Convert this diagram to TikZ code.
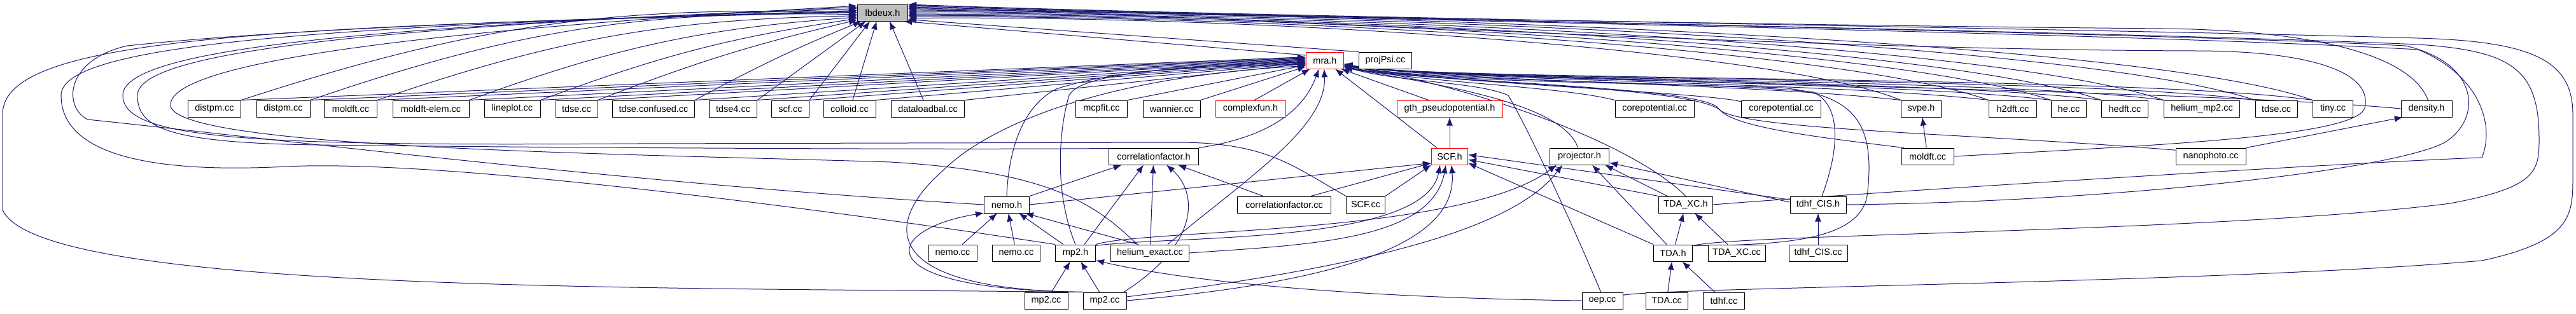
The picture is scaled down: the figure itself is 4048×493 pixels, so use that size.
\documentclass[tikz,border=0pt]{standalone}
\usepackage{fontspec}
\setmainfont{Liberation Sans}
\usetikzlibrary{arrows.meta}
\definecolor{edgeblue}{HTML}{191970}
\definecolor{boxgray}{HTML}{BFBFBF}
\pgfdeclarelayer{back}
\pgfsetlayers{back,main}

\begin{document}
\begin{tikzpicture}[x=1pt,y=1pt,>={Latex[length=13pt,width=10pt]},every node/.style={font=\fontsize{14.5}{17}\selectfont}]
  \tikzset{f/.style={rectangle,draw,line width=1pt,fill=white,minimum height=26pt,inner sep=0pt},
    fr/.style={f,draw=red},
    e/.style={->,edgeblue,line width=1pt}}
  \useasboundingbox (0,0) rectangle (4048,-493);
  \node[f,fill=boxgray,minimum width=79pt] (lbdeux) at (1387,-20) {lbdeux.h};
  \node[fr,minimum width=59pt] (mra) at (2082,-95) {mra.h};
  \node[f,minimum width=83pt] (projPsi) at (2177,-95) {projPsi.cc};
  \node[f,minimum width=83pt] (distpmA) at (337,-171) {distpm.cc};
  \node[f,minimum width=84pt] (distpmB) at (445,-171) {distpm.cc};
  \node[f,minimum width=83pt] (moldftA) at (551,-171) {moldft.cc};
  \node[f,minimum width=120pt] (moldftelem) at (677,-171) {moldft-elem.cc};
  \node[f,minimum width=88pt] (lineplot) at (805,-171) {lineplot.cc};
  \node[f,minimum width=66pt] (tdseA) at (906,-171) {tdse.cc};
  \node[f,minimum width=129pt] (tdseconf) at (1027,-171) {tdse.confused.cc};
  \node[f,minimum width=75pt] (tdsefour) at (1152,-171) {tdse4.cc};
  \node[f,minimum width=59pt] (scf) at (1242,-171) {scf.cc};
  \node[f,minimum width=82pt] (colloid) at (1335,-171) {colloid.cc};
  \node[f,minimum width=115pt] (dataloadbal) at (1458,-171) {dataloadbal.cc};
  \node[f,minimum width=81pt] (mcpfit) at (1731,-171) {mcpfit.cc};
  \node[f,minimum width=90pt] (wannier) at (1841,-171) {wannier.cc};
  \node[fr,minimum width=110pt] (complexfun) at (1965,-171) {complexfun.h};
  \node[fr,minimum width=166pt] (gth) at (2278,-171) {gth\_pseudopotential.h};
  \node[f,minimum width=124pt] (coreA) at (2600,-171) {corepotential.cc};
  \node[f,minimum width=125pt] (coreB) at (2799,-171) {corepotential.cc};
  \node[f,minimum width=63pt] (svpe) at (3019,-171) {svpe.h};
  \node[f,minimum width=75pt] (htwodft) at (3163,-171) {h2dft.cc};
  \node[f,minimum width=55pt] (he) at (3251,-171) {he.cc};
  \node[f,minimum width=73pt] (hedft) at (3339,-171) {hedft.cc};
  \node[f,minimum width=119pt] (heliummp) at (3460,-171) {helium\_mp2.cc};
  \node[f,minimum width=66pt] (tdseB) at (3577,-171) {tdse.cc};
  \node[f,minimum width=63pt] (tiny) at (3666,-171) {tiny.cc};
  \node[f,minimum width=80pt] (density) at (3813,-171) {density.h};
  \node[f,minimum width=141pt] (cfh) at (1813,-246) {correlationfactor.h};
  \node[fr,minimum width=57pt] (SCFh) at (2278,-246) {SCF.h};
  \node[f,minimum width=93pt] (projector) at (2482,-246) {projector.h};
  \node[f,minimum width=82pt] (moldftB) at (3029,-246) {moldft.cc};
  \node[f,minimum width=110pt] (nanophoto) at (3474,-246) {nanophoto.cc};
  \node[f,minimum width=71pt] (nemoh) at (1582,-322) {nemo.h};
  \node[f,minimum width=147pt] (cfcc) at (2018,-322) {correlationfactor.cc};
  \node[f,minimum width=61pt] (SCFcc) at (2146,-322) {SCF.cc};
  \node[f,minimum width=85pt] (TDAXCh) at (2649,-322) {TDA\_XC.h};
  \node[f,minimum width=88pt] (tdhfCISh) at (2857,-322) {tdhf\_CIS.h};
  \node[f,minimum width=76pt] (nemoccA) at (1497,-398) {nemo.cc};
  \node[f,minimum width=75pt] (nemoccB) at (1597,-398) {nemo.cc};
  \node[f,minimum width=63pt] (mp2h) at (1690,-398) {mp2.h};
  \node[f,minimum width=123pt] (heliumexact) at (1807,-398) {helium\_exact.cc};
  \node[f,minimum width=61pt] (TDAh) at (2629,-398) {TDA.h};
  \node[f,minimum width=90pt] (TDAXCcc) at (2729,-398) {TDA\_XC.cc};
  \node[f,minimum width=92pt] (tdhfCIScc) at (2857,-398) {tdhf\_CIS.cc};
  \node[f,minimum width=68pt] (mp2ccA) at (1644,-473) {mp2.cc};
  \node[f,minimum width=68pt] (mp2ccB) at (1736,-473) {mp2.cc};
  \node[f,minimum width=64pt] (oep) at (2518,-473) {oep.cc};
  \node[f,minimum width=66pt] (TDAcc) at (2619,-473) {TDA.cc};
  \node[f,minimum width=65pt] (tdhfcc) at (2709,-473) {tdhf.cc};

  \begin{pgfonlayer}{back}
  \draw[e] (distpmA.north east) to[bend left=10] (lbdeux.181);
  \draw[e] (distpmB.north east) to[bend left=10] (lbdeux.184);
  \draw[e] (moldftA.north east) to[bend left=9] (lbdeux.187);
  \draw[e] (moldftelem.north east) to[bend left=8] (lbdeux.190);
  \draw[e] (lineplot.north east) to[bend left=6] (lbdeux.193);
  \draw[e] (tdseA.north east) to[bend left=4] (lbdeux.196);
  \draw[e] (tdseconf.north east) to[bend left=3] (lbdeux.202);
  \draw[e] (tdsefour.north east) -- (lbdeux.207);
  \draw[e] (scf.north east) -- (lbdeux.214);
  \draw[e] (colloid.70) -- (lbdeux.235);
  \draw[e] ([xshift=-7pt]dataloadbal.north) -- (lbdeux.-51);

  \draw[e] (distpmA.north east) -- (mra.170);
  \draw[e] (distpmB.north east) -- (mra.172);
  \draw[e] (moldftA.north east) -- (mra.174);
  \draw[e] (moldftelem.north east) -- (mra.176);
  \draw[e] (lineplot.north east) -- (mra.178);
  \draw[e] (tdseA.north east) -- (mra.180);
  \draw[e] (tdseconf.north east) -- (mra.182);
  \draw[e] (tdsefour.north east) -- (mra.184);
  \draw[e] (scf.north east) -- (mra.186);
  \draw[e] (colloid.north east) -- (mra.188);
  \draw[e] (dataloadbal.north east) -- (mra.190);
  \draw[e] (mcpfit.north east) -- (mra.194);
  \draw[e] (wannier.north east) -- (mra.198);
  \draw[e] (complexfun.65) -- (mra.-150);

  \draw[e] (mra.165) -- (lbdeux.338);
  \draw[e] (projPsi.north west) -- (lbdeux.345);
  \draw[e] ([xshift=-33pt]gth.north) -- (mra.-28);
  \draw[e] (SCFh) -- (gth);
  \draw[e] ([xshift=-20pt]SCFh.north) -- (mra.-40);
  \draw[e] (projector.100) .. controls (2455,-160) and (2250,-132) .. (mra.-20);
  \draw[e] (oep.100) .. controls (2470,-350) and (2400,-200) .. (2370,-150) .. controls (2320,-128) and (2200,-130) .. (mra.-18);
  \draw[e] (TDAXCh.north) .. controls (2560,-220) and (2300,-132) .. (mra.-16);
  \draw[e] ([xshift=6pt]tdhfCISh.north) .. controls (2885,-250) and (2900,-170) .. (2850,-145) .. controls (2700,-128) and (2250,-130) .. (mra.-14);
  \draw[e] (TDAh.20) .. controls (2800,-385) and (2930,-380) .. (2935,-300) .. controls (2945,-200) and (2920,-150) .. (2800,-138) .. controls (2500,-128) and (2250,-130) .. (mra.-12);
  \draw[e] (coreA.north west) .. controls (2450,-135) and (2230,-130) .. (mra.-17);
  \draw[e] (coreB.170) .. controls (2680,-145) and (2250,-130) .. (mra.-15);
  \draw[e] (moldftB.160) .. controls (2850,-215) and (2720,-200) .. (2700,-170) .. controls (2670,-135) and (2250,-130) .. (mra.-19);
  \draw[e] (nanophoto.170) .. controls (3100,-210) and (2760,-205) .. (2705,-175) .. controls (2670,-135) and (2250,-130) .. (mra.-21);

  \draw[e] (svpe.north west) .. controls (2740,-130) and (2250,-128) .. (mra.-10);
  \draw[e] (htwodft.north west) .. controls (2870,-128) and (2260,-128) .. (mra.-11);
  \draw[e] (he.north west) .. controls (2960,-126) and (2270,-128) .. (mra.-12);
  \draw[e] (hedft.north west) .. controls (3040,-124) and (2280,-128) .. (mra.-13);
  \draw[e] (heliummp.north west) .. controls (3130,-122) and (2290,-128) .. (mra.-14);
  \draw[e] (tdseB.north west) .. controls (3260,-120) and (2300,-128) .. (mra.-15);
  \draw[e] (tiny.north west) .. controls (3350,-118) and (2310,-128) .. (mra.-16);
  \draw[e] (density.west) .. controls (3450,-140) and (2320,-128) .. (mra.-17);

  \draw[e] (svpe.north west) .. controls (2800,-80) and (2000,-24) .. (lbdeux.348);
  \draw[e] (htwodft.north west) .. controls (2900,-78) and (2050,-24) .. (lbdeux.351);
  \draw[e] (he.north west) .. controls (2980,-76) and (2100,-24) .. (lbdeux.354);
  \draw[e] (hedft.north west) .. controls (3060,-74) and (2150,-24) .. (lbdeux.357);
  \draw[e] (heliummp.north west) .. controls (3150,-72) and (2200,-24) .. (lbdeux.0);
  \draw[e] (tdseB.north west) .. controls (3280,-70) and (2250,-24) .. (lbdeux.3);
  \draw[e] (tiny.north west) .. controls (3380,-68) and (2300,-24) .. (lbdeux.6);
  \draw[e] (density.80) .. controls (3790,-90) and (3650,-48) .. (3400,-45) .. controls (2800,-40) and (2000,-24) .. (lbdeux.9);
  \draw[e] (moldftB.east) .. controls (3400,-228) and (3700,-215) .. (3716,-170) .. controls (3730,-110) and (3620,-80) .. (3450,-80) .. controls (2800,-78) and (2000,-28) .. (lbdeux.11);
  \draw[e] (TDAXCh.east) .. controls (2900,-305) and (3700,-255) .. (3900,-248) .. controls (3920,-200) and (3900,-120) .. (3800,-78) .. controls (3300,-50) and (2000,-28) .. (lbdeux.13);
  \draw[e] (tdhfCISh.east) .. controls (3300,-318) and (3750,-270) .. (3840,-225) .. controls (3900,-190) and (3900,-100) .. (3780,-72) .. controls (3300,-48) and (2000,-28) .. (lbdeux.15);
  \draw[e] (TDAh.20) .. controls (2720,-368) and (3500,-365) .. (3850,-320) .. controls (3985,-295) and (3990,-270) .. (3990,-220) .. controls (3990,-110) and (3950,-80) .. (3800,-70) .. controls (3300,-48) and (2000,-28) .. (lbdeux.17);
  \draw[e] (oep.15) .. controls (2620,-452) and (3500,-445) .. (3900,-410) .. controls (4040,-380) and (4043,-340) .. (4043,-280) -- (4043,-180) .. controls (4043,-95) and (3980,-65) .. (3800,-60) .. controls (3300,-45) and (2000,-28) .. (lbdeux.18);
  \draw[e] (nanophoto.north east) -- (density.200);
  \draw[e] (moldftB) -- (svpe);

  \draw[e] (mp2ccB.north west) .. controls (1000,-452) and (60,-460) .. (4,-330) -- (4,-180) .. controls (4,-60) and (400,-42) .. (lbdeux.179);
  \draw[e] (mp2h.north west) .. controls (1300,-330) and (700,-250) .. (450,-262) .. controls (200,-275) and (96,-230) .. (96,-150) .. controls (96,-70) and (500,-40) .. (lbdeux.177);
  \draw[e] (nemoh.west) .. controls (1000,-290) and (400,-215) .. (138,-188) .. controls (100,-170) and (100,-95) .. (200,-72) .. controls (500,-40) and (1000,-28) .. (lbdeux.175);
  \draw[e] (SCFcc.north west) .. controls (2030,-260) and (1990,-224) .. (1850,-224) -- (1000,-226) .. controls (400,-230) and (193,-220) .. (193,-150) .. controls (193,-75) and (600,-40) .. (lbdeux.171);
  \draw[e] (cfh.170) .. controls (1500,-236) and (800,-232) .. (500,-228) .. controls (260,-225) and (216,-200) .. (216,-150) .. controls (216,-80) and (600,-42) .. (lbdeux.168);
  \draw[e] ([xshift=-20pt]heliumexact.north) .. controls (1720,-320) and (1650,-270) .. (1400,-255) .. controls (1000,-242) and (268,-235) .. (268,-165) .. controls (268,-95) and (700,-45) .. (lbdeux.165);

  \draw[e] (cfh.north east) .. controls (2000,-215) and (2050,-170) .. (mra.-125);
  \draw[e] (nemoh.north east) -- (cfh.-165);
  \draw[e] (nemoh.north) .. controls (1585,-230) and (1610,-165) .. (1660,-140) .. controls (1750,-110) and (1900,-102) .. (mra.185);
  \draw[e] (nemoh.east) -- (SCFh.200);
  \draw[e] (nemoccA) -- (nemoh);
  \draw[e] (nemoccB) -- (nemoh);
  \draw[e] (mp2h) -- (nemoh);
  \draw[e] ([xshift=-18pt]heliumexact.north) -- (nemoh.-25);
  \draw[e] ([xshift=14pt]mp2h.north) -- ([xshift=-16pt]cfh.south);
  \draw[e] (heliumexact) -- (cfh);
  \draw[e] ([xshift=30pt]mp2ccB.north) .. controls (1890,-380) and (1880,-300) .. ([xshift=20pt]cfh.south);
  \draw[e] ([xshift=-33pt]cfcc.north) -- ([xshift=38pt]cfh.south);
  \draw[e] (mp2h.north) .. controls (1655,-300) and (1665,-200) .. (1680,-150) .. controls (1700,-110) and (1900,-103) .. (mra.192);
  \draw[e] ([xshift=28pt]heliumexact.north) .. controls (1960,-280) and (2085,-200) .. (mra.-95);
  \draw[e] (mp2ccB.north west) .. controls (1360,-455) and (1400,-340) .. (1480,-270) .. controls (1560,-190) and (1750,-120) .. (mra.196);
  \draw[e] (mp2ccB.north west) .. controls (1350,-455) and (1390,-360) .. (nemoh.200);
  \draw[e] (mp2ccA) -- (mp2h);
  \draw[e] (mp2ccB) -- (mp2h);
  \draw[e] (mp2h.north east) .. controls (1800,-360) and (2300,-370) .. ([xshift=-36pt]projector.south);
  \draw[e] (mp2h.20) .. controls (1850,-370) and (2240,-385) .. ([xshift=-15pt]SCFh.south);
  \draw[e] (heliumexact.east) .. controls (2050,-385) and (2250,-380) .. ([xshift=-6pt]SCFh.south);
  \draw[e] (mp2ccB.east) .. controls (2150,-440) and (2290,-370) .. ([xshift=3pt]SCFh.south);
  \draw[e] (mp2ccB.10) .. controls (2150,-420) and (2380,-360) .. ([xshift=-27pt]projector.south);
  \draw[e] (oep.west) .. controls (2100,-468) and (1850,-440) .. (mp2h.-20);

  \draw[e] (SCFcc.north east) -- (SCFh.south west);
  \draw[e] ([xshift=42pt]cfcc.north) -- (SCFh.200);
  \draw[e] (TDAXCh.north west) -- (SCFh.-10);
  \draw[e] (tdhfCISh.170) -- (SCFh.5);
  \draw[e] (TDAh.north west) -- (SCFh.-20);
  \draw[e] (tdhfCISh.175) -- (projector.-12);
  \draw[e] ([xshift=-29pt]TDAXCh.north) -- ([xshift=40pt]projector.south);
  \draw[e] ([xshift=-10pt]TDAh.north) -- ([xshift=20pt]projector.south);
  \draw[e] (TDAh) -- (TDAXCh);
  \draw[e] (TDAXCcc) -- (TDAXCh);
  \draw[e] (TDAcc) -- (TDAh);
  \draw[e] (tdhfcc) -- (TDAh);
  \draw[e] (tdhfCIScc) -- (tdhfCISh);
  \end{pgfonlayer}
\end{tikzpicture}
\end{document}
